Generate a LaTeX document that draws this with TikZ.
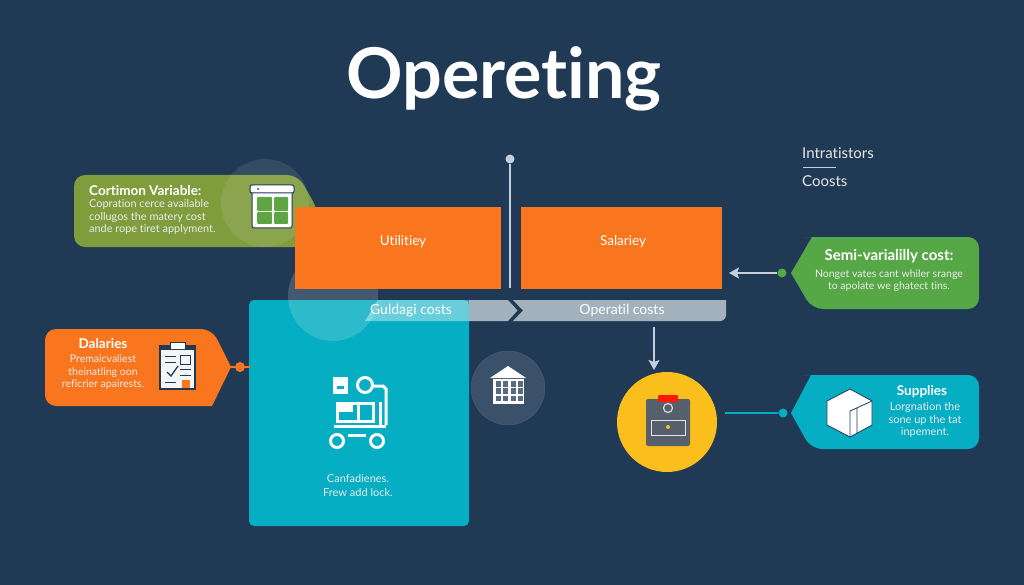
\documentclass[tikz,border=0pt]{standalone}
\usepackage{fontspec}
\setmainfont[Ligatures=NoCommon]{Lato}
\usetikzlibrary{arrows.meta}
\definecolor{bgblue}{HTML}{203A55}
\definecolor{boxorange}{HTML}{FA761E}
\definecolor{boxolive}{HTML}{7F9D3C}
\definecolor{boxgreen}{HTML}{55A845}
\definecolor{boxteal}{HTML}{05AEC3}
\definecolor{barblue}{HTML}{A3B1BC}
\definecolor{linegrey}{HTML}{C3CFDD}
\definecolor{iconyellow}{HTML}{FBBF1D}
\definecolor{icongrey}{HTML}{565F6C}
\tikzset{
  x=1pt,y=-1pt,
  boxlabel/.style={text=white,align=center,font=\fontsize{13.5}{15}\selectfont},
  smalltext/.style={text=white!92!black,align=center,inner sep=0pt,font=\fontsize{10.5}{12.5}\selectfont},
  boldtext/.style={text=white,inner sep=0pt,font=\fontsize{13.5}{15}\selectfont\bfseries},
  greyarrow/.style={draw=linegrey,line width=2.5pt,-{Stealth[length=10pt,width=11pt,inset=2pt]}},
  iconline/.style={draw=white,line width=3pt},
  glass/.style={fill=white,fill opacity=0.09,draw=none},
}
\begin{document}
\begin{tikzpicture}
    \useasboundingbox (0,0) rectangle (1024,585);
    \fill[bgblue] (0,0) rectangle (1024,585);
    \node[text=white,font=\fontsize{70}{80}\selectfont\bfseries] (title) at (504,79) {Opereting};

    % top right label
    \node[text=white!90!black,anchor=west,inner sep=0pt,font=\fontsize{15}{16}\selectfont] (intra) at (802,153) {Intratistors};
    \node[text=white!90!black,anchor=west,inner sep=0pt,font=\fontsize{15}{16}\selectfont] (coosts) at (802,181) {Coosts};
    \coordinate (ruleL) at (803,167);
    \coordinate (ruleR) at (836,167);
    \draw[linegrey,line width=0.8pt] (ruleL) -- (ruleR);

    % olive box with glass circle
    \fill[boxolive,rounded corners=11pt] (74,175) -- (298,175) -- (318,210) -- (318,247) -- (74,247) -- cycle;
    \node[boldtext,anchor=west] (varhead) at (89,191) {Cortimon Variable:};
    \node[smalltext,anchor=west,align=left,font=\fontsize{10.9}{12.6}\selectfont] (vartext) at (89,217) {Copration cerce available\\collugos the matery cost\\ande rope tiret applyment.};
    \node[glass,circle,minimum size=88pt] (varglass) at (265,203) {};
    \draw[draw=bgblue,fill=white,line width=1pt,rounded corners=2pt] (252,190) rectangle (292,228);
    \draw[draw=bgblue,fill=white,line width=1pt,rounded corners=2pt] (250,185) rectangle (294,193);
    \fill[bgblue] (258,189) circle (1pt);
    \foreach \x/\y/\w/\h in {257/197/15/14,274/197/14/14,257/212/15/12,274/212/14/12}
        \fill[boxgreen!80!boxolive,rounded corners=1pt] (\x,\y) rectangle +(\w,\h);

    % teal panel, glass circle under the orange boxes
    \node[fill=boxteal,rounded corners=5pt,minimum width=220pt,minimum height=226pt,inner sep=0pt] (panel) at (359,413) {};
    \node[glass,circle,fill opacity=0.16,minimum size=90pt] (panelglass) at (333,296) {};

    % line, bar, orange boxes
    \node[fill=boxorange,minimum width=206pt,minimum height=81pt,inner sep=0pt] (utility) at (397.5,248) {};
    \node[fill=boxorange,minimum width=201pt,minimum height=81pt,inner sep=0pt] (salary) at (621.5,248) {};
    \node[boxlabel] (utilitylabel) at (403,242) {Utilitiey};
    \node[boxlabel] (salarylabel) at (623,242) {Salariey};
    \node[circle,fill=linegrey,minimum size=9pt,inner sep=0pt] (topdot) at (510,159) {};
    \coordinate (lineend) at (510,288);
    \draw[linegrey,line width=2.5pt] (topdot) -- (lineend);

    \fill[barblue] (469,300) -- (508,300) -- (518,310.5) -- (508,321) -- (469,321) -- cycle;
    \fill[barblue] (513,300) -- (726,300) [rounded corners=6pt] -- (726,321) [sharp corners] -- (513,321) -- (523,310.5) -- cycle;
    \fill[white,fill opacity=0.4] (378,300) -- (469,300) -- (469,321) -- (365,321) -- cycle;
    \draw[bgblue,line width=2pt] (510,300) -- (519,310.5) -- (510,321);
    \node[text=white,font=\fontsize{14}{15}\selectfont] (guldagi) at (411,311) {Guldagi costs};
    \node[text=white,font=\fontsize{14}{15}\selectfont] (operatil) at (622,311) {Operatil costs};
    \node[smalltext,font=\fontsize{11}{14}\selectfont] (paneltext) at (358,485) {Canfadienes.\\Frew add lock.};

    % cart icon
    \fill[white] (333,377) rectangle (348,394);
    \fill[boxteal] (337,386) rectangle (344,389);
    \draw[iconline] (365,385) circle (7.5pt);
    \draw[iconline] (373,386) -- (383,386) -- (386,389) -- (386,425);
    \draw[iconline] (337,403) rectangle (373,421);
    \fill[white] (337,403) rectangle (353,412);
    \draw[iconline] (358,403) -- (358,421);
    \draw[iconline] (380,402) -- (380,426);
    \draw[iconline] (334,426) -- (386,426);
    \draw[iconline] (337,441) circle (6.5pt);
    \draw[iconline] (377,441) circle (6.5pt);
    \draw[iconline] (348,435) -- (366,435);

    % building circle
    \node[circle,fill=white,fill opacity=0.12,draw=white,draw opacity=0.1,minimum size=74pt] (bankcircle) at (508,388) {};
    \fill[white] (490,378) -- (508,366) -- (526,378) -- cycle;
    \fill[white] (493,379) rectangle (524,404);
    \foreach \x in {495.5,503,510.5,518}
        \foreach \y in {381,388,395.5}
            \fill[bgblue!75!white] (\x,\y) rectangle +(5,5.5);

    % orange box
    \fill[boxorange,rounded corners=11pt] (45,329) -- (212,329) [sharp corners] -- (231,367) -- (212,406) [rounded corners=11pt] -- (45,406) -- cycle;
    \node[boldtext] (dalhead) at (103,344) {Dalaries};
    \node[smalltext] (daltext) at (103,372.5) {Premaicvaliest\\theinatling oon\\reficrier apairests.};
    \draw[draw=bgblue,fill=white!95!bgblue,line width=1.5pt] (160,346) rectangle (195,389);
    \fill[bgblue] (160,346) rectangle (195,350);
    \fill[white,draw=bgblue] (170,342) rectangle (185,349);
    \draw[bgblue,line width=1pt] (165,356) -- (176,356) (165,362) -- (176,362) (180,369) -- (191,369) (180,375) -- (191,375) (165,382) -- (176,382);
    \draw[bgblue,line width=1pt] (180,355) rectangle (190,364);
    \draw[bgblue,line width=1.3pt] (167,372) -- (171,376) -- (178,366);
    \fill[boxorange] (182,380) rectangle (190,388);
    \node[circle,fill=boxorange,minimum size=10pt,inner sep=0pt] (daldot) at (240,367) {};
    \coordinate (dalstart) at (230,367);
    \coordinate (dalend) at (250,367);
    \draw[boxorange,line width=1.5pt] (dalstart) -- (daldot) -- (dalend);

    % green box
    \fill[boxgreen,rounded corners=11pt] (815,237) -- (979,237) -- (979,309) -- (812,309) [sharp corners] -- (791,273) -- (812,237) [rounded corners=11pt] -- cycle;
    \node[boldtext,font=\fontsize{15}{16}\selectfont\bfseries] (semihead) at (889,256) {Semi-varialilly cost:};
    \node[smalltext] (semitext) at (889,280.5) {Nonget vates cant whiler srange\\to apolate we ghatect tins.};
    \node[circle,fill=boxgreen,minimum size=9pt,inner sep=0pt] (semidot) at (782,273) {};
    \coordinate (semiend) at (729,273);
    \draw[greyarrow] (semidot) -- (semiend);

    % yellow circle
    \coordinate (downstart) at (654,327);
    \coordinate (downend) at (654,370);
    \draw[greyarrow] (downstart) -- (downend);
    \node[circle,fill=iconyellow,minimum size=100pt,inner sep=0pt] (yellowcircle) at (667,422) {};
    \fill[icongrey,rounded corners=2pt] (646,399) rectangle (690,446);
    \fill[red!80!orange,rounded corners=1pt] (658,395) rectangle (678,402);
    \draw[white!85!black,line width=1.2pt] (668,408) circle (4.5pt);
    \draw[white!90!black,line width=1pt] (651,420) rectangle (685,435);
    \fill[iconyellow] (668,427) circle (2pt);

    % teal box
    \fill[boxteal,rounded corners=11pt] (815,375) -- (979,375) -- (979,449) -- (811,449) [sharp corners] -- (791,413) -- (811,375) [rounded corners=11pt] -- cycle;
    \node[boldtext] (supphead) at (922,392) {Supplies};
    \node[smalltext,font=\fontsize{11}{12.6}\selectfont] (supptext) at (925,420) {Lorgnation the\\sone up the tat\\inpement.};
    \node[circle,fill=boxteal,minimum size=9pt,inner sep=0pt] (suppdot) at (783,413) {};
    \coordinate (suppstart) at (725,413);
    \draw[boxteal,line width=1.5pt] (suppstart) -- (suppdot);
    \draw[bgblue,fill=white,line width=0.8pt] (850,389) -- (872,401) -- (872,425) -- (850,437) -- (827,425) -- (827,401) -- cycle;
    \draw[bgblue,line width=0.8pt] (850,437) -- (850,411) -- (872,401) (857,433) -- (857,408);
\end{tikzpicture}
\end{document}
